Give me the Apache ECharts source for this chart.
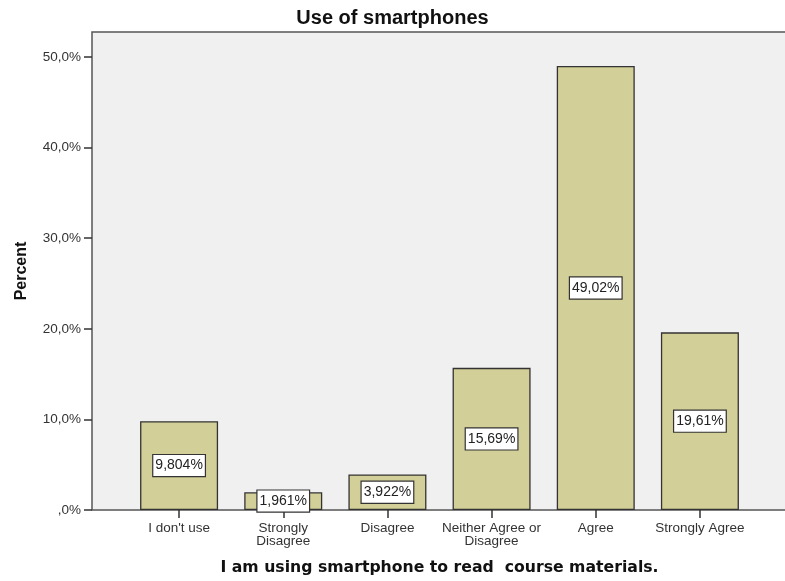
<!DOCTYPE html>
<html>
<head>
<meta charset="utf-8">
<script src="https://cdn.jsdelivr.net/npm/echarts@6/dist/echarts.min.js"></script>
<style>
  html, body { margin: 0; padding: 0; background: #ffffff; }
  #chart { width: 785px; height: 581px; }
</style>
</head>
<body>
<div id="chart"></div>
<script>
// Survey responses: share of students per answer
const categories = ['I don\'t use', 'Strongly\nDisagree', 'Disagree', 'Neither Agree or\nDisagree', 'Agree', 'Strongly Agree'];
const percents = [9.804, 1.961, 3.922, 15.69, 49.02, 19.61];
const yTicks = [0, 10, 20, 30, 40, 50];

const FONT = 'Arial, "Liberation Sans", sans-serif';

// decimal comma, as in the survey report
function pctLabel(v) {
  return String(v).replace('.', ',') + '%';
}
function tickLabel(v) {
  if (yTicks.indexOf(v) < 0) return '';
  return v === 0 ? ',0%' : v.toFixed(1).replace('.', ',') + '%';
}

const chart = echarts.init(document.getElementById('chart'), null, { renderer: 'canvas' });

chart.setOption({
  animation: false,
  backgroundColor: '#ffffff',
  title: {
    text: 'Use of smartphones',
    left: 'center',
    top: 3,
    textStyle: { fontFamily: FONT, fontWeight: 'bold', fontSize: 20, color: '#111' }
  },
  grid: [
    // plot frame with grey background
    {
      left: 92, right: -10, top: 32, bottom: 71,
      outerBoundsMode: 'none',
      containLabel: false,
      show: true,
      backgroundColor: '#f0f0f0',
      borderColor: '#555',
      borderWidth: 1.5
    },
    // bar area
    { left: 127, right: 33, top: 57, bottom: 71, outerBoundsMode: 'none', containLabel: false }
  ],
  xAxis: [
    { gridIndex: 0, type: 'value', show: false, min: 0, max: 1 },
    {
      gridIndex: 1,
      type: 'category',
      data: categories,
      axisLine: { show: false },
      axisTick: { show: true, alignWithLabel: true, length: 8, lineStyle: { color: '#333', width: 1.5 } },
      axisLabel: {
        fontFamily: FONT, fontSize: 13.5, color: '#333', margin: 12, lineHeight: 13, interval: 0
      },
      name: 'I am using smartphone to read  course materials.',
      nameLocation: 'middle',
      nameGap: 50,
      nameTextStyle: { fontFamily: '"DejaVu Sans", sans-serif', fontWeight: 'bold', fontSize: 15.7, color: '#111' }
    }
  ],
  yAxis: [
    {
      gridIndex: 0,
      type: 'value',
      min: 0, max: 1,
      axisLine: { show: false },
      axisTick: { show: false },
      axisLabel: { show: false },
      splitLine: { show: false },
      name: 'Percent',
      nameLocation: 'middle',
      nameGap: 62,
      nameRotate: 90,
      nameTextStyle: { fontFamily: FONT, fontWeight: 'bold', fontSize: 16, color: '#111' }
    },
    {
      gridIndex: 1,
      type: 'value',
      min: 0, max: 50, interval: 10,
      offset: 35,
      axisLine: { show: false },
      axisTick: { show: true, length: 8, lineStyle: { color: '#333', width: 1.5 } },
      axisLabel: { fontFamily: FONT, fontSize: 13.5, color: '#333', margin: 11, formatter: tickLabel },
      splitLine: { show: false }
    }
  ],
  series: [
    {
      type: 'bar',
      xAxisIndex: 1,
      yAxisIndex: 1,
      data: percents,
      barWidth: 78,
      itemStyle: { color: '#d3cf98', borderColor: '#333', borderWidth: 1.3 },
      label: {
        show: true,
        position: 'inside',
        formatter: p => pctLabel(p.value),
        fontFamily: FONT,
        fontSize: 14,
        color: '#222',
        backgroundColor: '#ffffff',
        borderColor: '#333',
        borderWidth: 1.2,
        padding: [4, 2, 3, 2]
      }
    }
  ]
});
</script>
</body>
</html>
